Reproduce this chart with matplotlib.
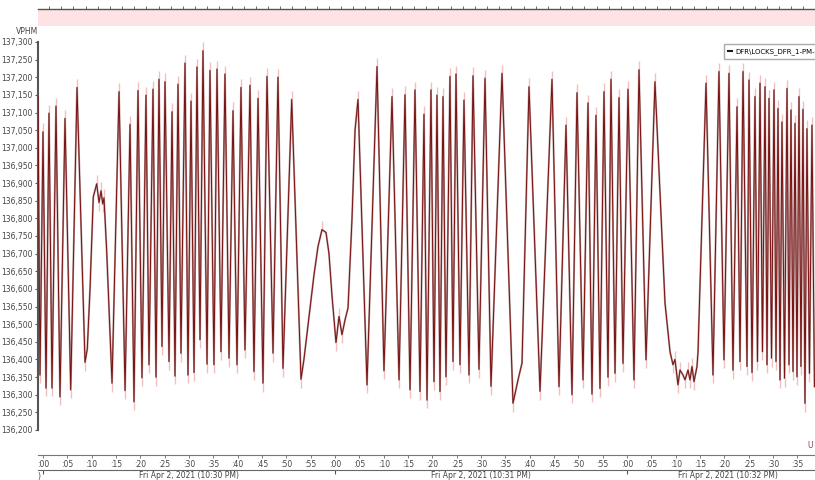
import numpy as np
import matplotlib.pyplot as plt
from matplotlib.lines import Line2D
from matplotlib.ticker import FuncFormatter, MultipleLocator, FixedLocator

# seconds after 10:30:00 PM and the frequency reading (VPHM) at each turning point
t_sec = [-1.03, -0.62, 0.00, 0.62, 1.23, 1.85, 2.67, 3.49, 4.52, 5.69,
         6.99, 8.63, 9.10, 9.66, 10.33, 11.03, 11.51, 11.92, 12.27, 12.53,
         13.09, 14.18, 15.62, 16.86, 17.88, 18.70, 19.52, 20.34, 21.16, 21.78,
         22.60, 23.22, 23.83, 24.45, 25.07, 25.89, 26.51, 27.12, 27.74, 28.35,
         29.18, 29.79, 30.41, 31.03, 31.64, 32.26, 32.87, 33.70, 34.31, 35.13,
         35.75, 36.57, 37.39, 38.22, 39.04, 39.86, 40.68, 41.50, 42.53, 43.35,
         44.18, 45.20, 46.02, 47.26, 48.28, 49.31, 51.10, 53.01, 53.63, 54.65,
         55.68, 56.50, 57.32, 58.15, 58.76, 59.38, 60.20, 60.82, 61.43, 62.05,
         62.67, 63.49, 64.11, 64.72, 66.57, 68.63, 70.06, 71.71, 73.15, 74.38,
         75.41, 76.43, 77.46, 78.28, 78.90, 79.72, 80.34, 80.95, 81.57, 82.19,
         82.80, 83.62, 84.24, 84.86, 85.68, 86.50, 87.53, 88.35, 89.58, 90.82,
         92.05, 94.31, 96.57, 97.60, 98.42, 99.86, 102.12, 104.58, 106.02, 107.46,
         108.69, 109.72, 110.95, 111.98, 112.80, 113.62, 114.44, 115.27, 116.09, 116.70,
         117.53, 118.35, 119.17, 120.20, 121.43, 122.46, 123.90, 125.74, 127.80, 128.83,
         129.44, 129.85, 130.47, 130.88, 131.50, 131.91, 132.53, 132.94, 133.35, 133.76,
         134.37, 134.58, 136.23, 137.66, 138.89, 139.92, 140.95, 141.77, 142.60, 143.21,
         143.83, 144.65, 145.06, 145.68, 146.29, 146.80, 147.32, 147.83, 148.35, 148.76,
         149.17, 149.69, 150.20, 150.61, 151.02, 151.43, 151.84, 152.36, 152.87, 153.28,
         153.69, 154.10, 154.51, 154.92, 155.33, 155.74, 156.15, 156.56, 156.97, 157.48,
         158.00, 158.51]

vphm = [137145, 136356, 137045, 136319, 137098, 136319, 137118, 136294, 137083, 136314,
        137171, 136392, 136430, 136600, 136861, 136898, 136845, 136878, 136841, 136858,
        136705, 136333, 137159, 136312, 137066, 136280, 137162, 136348, 137149, 136385,
        137166, 136350, 137194, 136437, 137187, 136394, 137102, 136353, 137180, 136418,
        137240, 136356, 137132, 136363, 137229, 136456, 137275, 136387, 137219, 136385,
        137223, 136422, 137209, 136404, 137105, 136385, 137171, 136427, 137177, 136366,
        137140, 136333, 137202, 136418, 137200, 136375, 137137, 136344, 136402, 136520,
        136640, 136720, 136768, 136760, 136700, 136580, 136448, 136522, 136470, 136512,
        136546, 136800, 137050, 137137, 136328, 137230, 136368, 137145, 136342, 137150,
        136314, 137164, 136309, 137095, 136285, 137164, 136337, 137149, 136309, 137145,
        136351, 137202, 136394, 137209, 136385, 137135, 136356, 137204, 136372, 137197,
        136324, 137211, 136276, 136342, 136390, 137173, 136310, 137194, 136323, 137064,
        136300, 137156, 136342, 137127, 136302, 137092, 136318, 137159, 136350, 137194,
        136361, 137142, 136389, 137166, 136342, 137221, 136399, 137187, 136560, 136422,
        136385, 136400, 136328, 136370, 136356, 136342, 136370, 136342, 136380, 136337,
        136380, 136420, 137183, 136356, 137216, 136399, 137211, 136370, 137116, 136394,
        137216, 136380, 137192, 136363, 137145, 136394, 137183, 136422, 137173, 136385,
        137140, 136404, 137164, 136394, 137111, 136342, 137073, 136347, 137168, 136385,
        137107, 136366, 137069, 136351, 137145, 136380, 137109, 136276, 137054, 136361,
        137064, 136323]

sec_ticks = list(range(0, 160, 5))
minute_labels = ["Fri Apr 2, 2021 (10:30 PM)", "Fri Apr 2, 2021 (10:31 PM)",
                 "Fri Apr 2, 2021 (10:32 PM)"]
minute_label_pos = [30.0, 90.0, 140.7]
series_name = "DFR\\LOCKS_DFR_1-PM-"

spread = 24  # min/max sample range drawn at each turning point

t = np.array(t_sec)
v = np.array(vphm)

fig = plt.figure(figsize=(8.15, 4.8), dpi=100)
ax = fig.add_axes([38 / 815, 50 / 480, 777 / 815, 388 / 480])

# turning points get a pale min/max whisker
is_peak = np.r_[False, (v[1:-1] > v[:-2]) & (v[1:-1] > v[2:]), False]
is_low = np.r_[False, (v[1:-1] < v[:-2]) & (v[1:-1] < v[2:]), False]
ax.vlines(t[is_peak], v[is_peak], v[is_peak] + spread, color="#f0c0c0", lw=1.0, zorder=1)
ax.vlines(t[is_low], v[is_low] - spread, v[is_low], color="#f0c0c0", lw=1.0, zorder=1)

ax.plot(t, v, color="#b89a9a", lw=1.4, zorder=2)
ax.plot(t, v, color="#7a1010", lw=0.7, zorder=3)

ax.set_xlim(-1.03, 158.62)
ax.set_ylim(136200, 137300)

for s in ["top", "right", "bottom"]:
    ax.spines[s].set_visible(False)
ax.spines["left"].set_color("#555555")
ax.spines["left"].set_linewidth(1.5)
ax.yaxis.set_major_locator(MultipleLocator(50))
ax.yaxis.set_major_formatter(FuncFormatter(lambda y, p: f"{int(y):,}"))
ax.tick_params(axis="y", labelsize=5.5, labelcolor="#444444", color="#555555",
               length=2.5, width=0.8, pad=1.5)
ax.tick_params(axis="x", bottom=False, labelbottom=False)

# seconds axis
sec_ax = ax.secondary_xaxis(-0.0644)
sec_ax.xaxis.set_major_locator(FixedLocator(sec_ticks))
sec_ax.xaxis.set_major_formatter(FuncFormatter(lambda x, p: f":{int(round(x)) % 60:02d}"))
sec_ax.tick_params(labelsize=5.5, labelcolor="#444444", color="#666666",
                   length=2, width=0.6, pad=1.5)
sec_ax.spines["bottom"].set_color("#777777")
sec_ax.spines["bottom"].set_linewidth(0.8)

# minute axis
min_ax = ax.secondary_xaxis(-0.103)
min_ax.xaxis.set_major_locator(FixedLocator([0, 60, 120]))
min_ax.tick_params(labelbottom=False, color="#555555", length=3, width=0.8)
min_ax.spines["bottom"].set_color("#666666")
min_ax.spines["bottom"].set_linewidth(0.8)

for pos, lab in zip(minute_label_pos, minute_labels):
    ax.text(pos, -0.116, lab, transform=ax.get_xaxis_transform(),
            ha="center", va="center", fontsize=5.5, color="#444444")
# tail of the previous minute's label
fig.text(37 / 815, 1 - 476 / 480, ")", fontsize=5.5, color="#444444", va="center")

# overview strip along the top
strip = fig.add_axes([38 / 815, 1 - 26 / 480, 777 / 815, 17 / 480])
strip.set_facecolor("#fde3e3")
strip.set_xlim(ax.get_xlim())
for s in ["left", "right", "bottom"]:
    strip.spines[s].set_visible(False)
strip.spines["top"].set_color("#555555")
strip.spines["top"].set_linewidth(1.0)
strip.set_yticks([])
strip.xaxis.set_major_locator(FixedLocator(np.arange(1.25, 158, 2.5)))
strip.tick_params(axis="x", top=True, bottom=False, labeltop=False, labelbottom=False,
                  length=2, width=0.6, color="#555555")

fig.text(16 / 815, 1 - 31 / 480, "VPHM", fontsize=5.5, color="#444444", va="center")
fig.text(807 / 815, 1 - 446 / 480, "U", fontsize=5.5, color="#8a3a5a", va="center")

handle = Line2D([], [], color="#1a1a1a", lw=1.5)
ax.legend([handle], [series_name], loc="upper left", bbox_to_anchor=(0.880, 1.0),
          fontsize=5.0, frameon=True, fancybox=False, edgecolor="#aaaaaa",
          handlelength=0.6, handletextpad=0.4, borderpad=0.6, borderaxespad=0.3,
          framealpha=1)

fig.savefig("out.png", dpi=100)
